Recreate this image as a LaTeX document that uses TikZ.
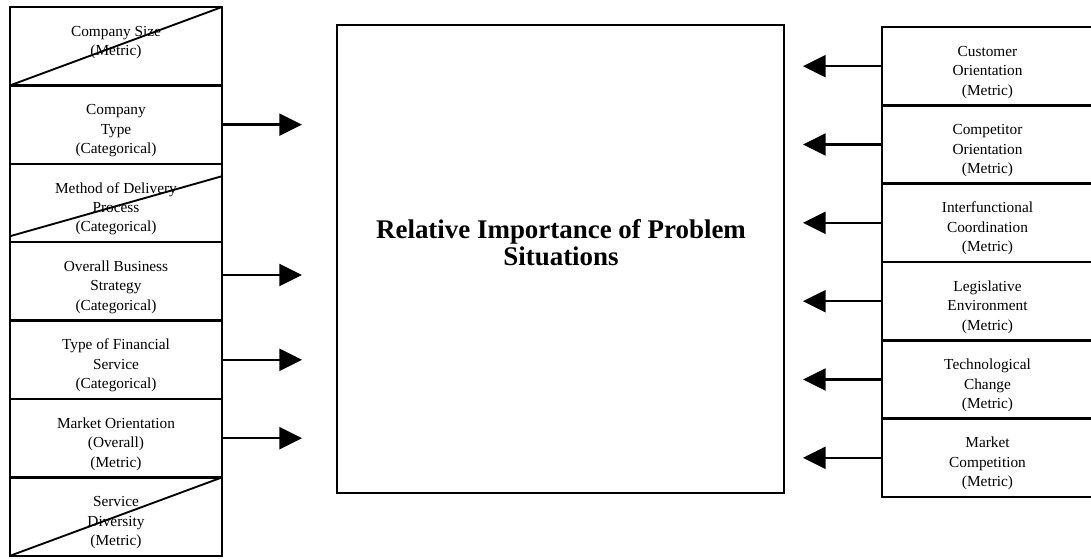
\documentclass[tikz,border=0pt]{standalone}
\usepackage{fontspec}
\setmainfont{Liberation Serif}
\usetikzlibrary{arrows.meta,positioning}
\newcommand{\varstack}[1]{\raisebox{-4.2pt}[\height][\depth]{\begin{tabular}{@{}c@{}}#1\end{tabular}}}

\begin{document}
\begin{tikzpicture}[x=0.75pt,y=-0.75pt,
  factor/.style={draw,line width=1.7pt,outer sep=0pt,inner sep=0pt,minimum height=58.8pt,font=\fontsize{11.5}{14.6}\selectfont},
  link/.style={-{Triangle[length=17pt,width=16.5pt]},line width=1.7pt}]
\useasboundingbox (0,0) rectangle (1091,558);
% predictors on the left
\foreach \y/\t/\id in {
46.2/Company Size\\(Metric)\\\mbox{}/1,
124.6/Company\\Type\\(Categorical)/2,
203/Method of Delivery\\Process\\(Categorical)/3,
281.4/Overall Business\\Strategy\\(Categorical)/4,
359.8/Type of Financial\\Service\\(Categorical)/5,
438.2/Market Orientation\\(Overall)\\(Metric)/6,
516.6/Service\\Diversity\\(Metric)/7}
{
  \node[factor,minimum width=159pt] (l\id) at (116,\y) {\varstack{\t}};
}
% predictors on the right
\foreach \y/\t/\id in {
66.2/Customer\\Orientation\\(Metric)/1,
144.5/Competitor\\Orientation\\(Metric)/2,
222.8/Interfunctional\\Coordination\\(Metric)/3,
301.2/Legislative\\Environment\\(Metric)/4,
379.5/Technological\\Change\\(Metric)/5,
457.8/Market\\Competition\\(Metric)/6}
{
  \node[factor,minimum width=158.25pt] (r\id) at (987.5,\y) {\varstack{\t}};
}
% dependent variable
\node[draw,line width=1.7pt,minimum width=335.25pt,minimum height=351pt] (outcome) at (560.5,259) {};
\node[align=center,font=\fontsize{20.2}{20.5}\selectfont\bfseries] (outtitle) at (561,243) {Relative Importance of Problem\\Situations};
% dropped predictors
\draw[line width=1.4pt] (l1.south west) -- (l1.north east);
\draw[line width=1.4pt] ([yshift=4.5pt]l3.south west) -- ([yshift=-9.3pt]l3.north east);
\draw[line width=1.4pt] (l7.south west) -- (l7.north east);
% arrows
\coordinate (t2) at ([xshift=60pt]l2.east);
\coordinate (t4) at ([xshift=60pt,yshift=4.8pt]l4.east);
\coordinate (t5) at ([xshift=60pt]l5.east);
\coordinate (t6) at ([xshift=60pt]l6.east);
\foreach \id in {2,4,5,6}{\draw[link] (l\id.east |- t\id) -- (t\id);}
\foreach \id in {1,...,6}{
  \coordinate (s\id) at ([xshift=-59.25pt]r\id.west);
  \draw[link] (r\id.west) -- (s\id);
}
\end{tikzpicture}
\end{document}
